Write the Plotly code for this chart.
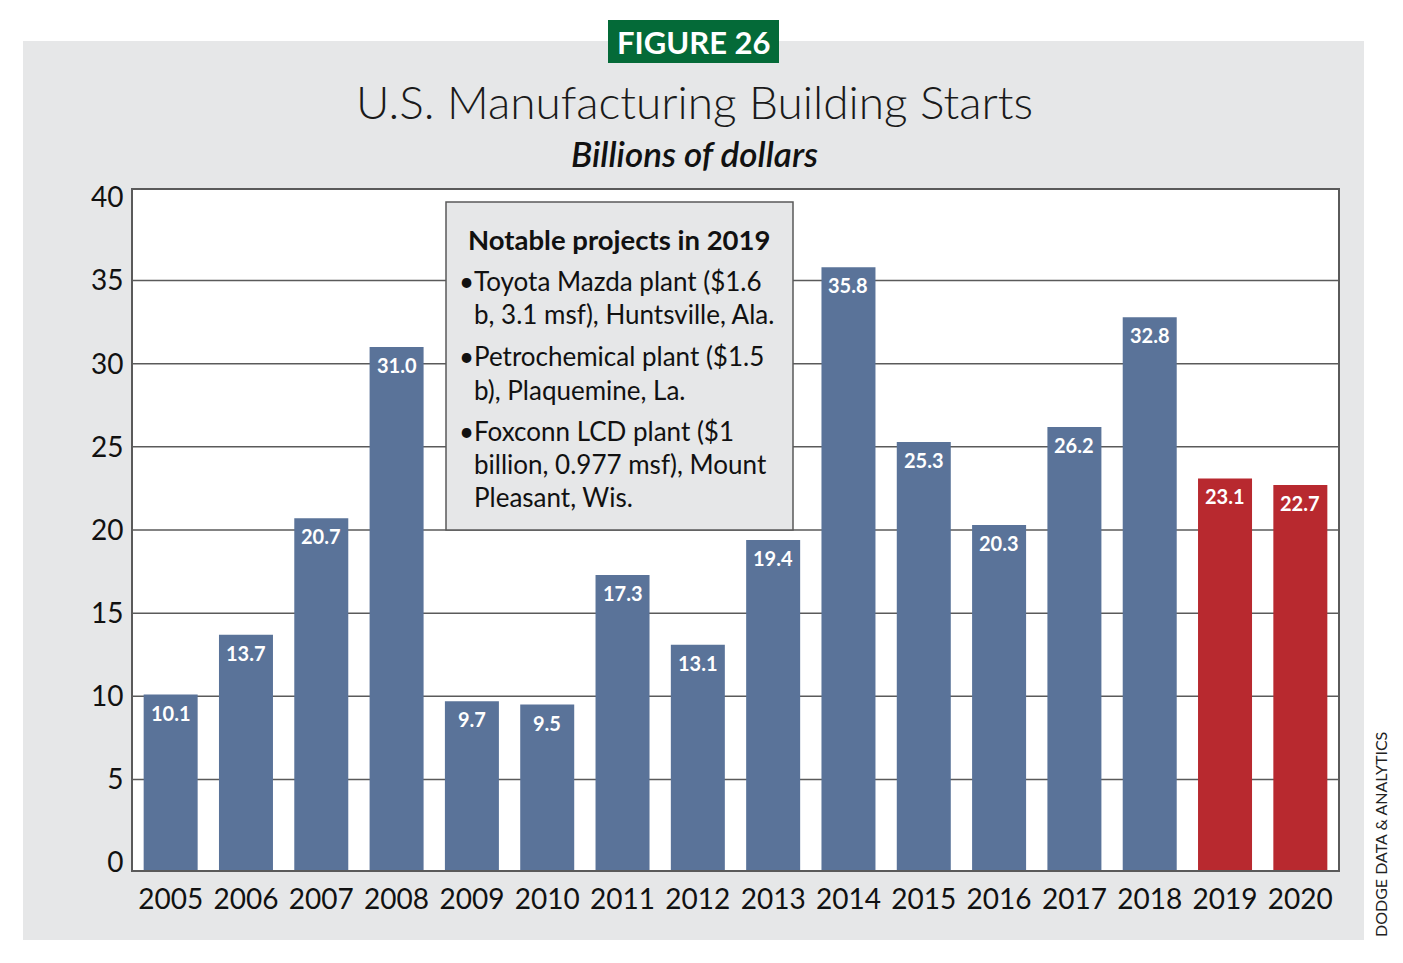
import plotly.graph_objects as go

years = ["2005", "2006", "2007", "2008", "2009", "2010", "2011", "2012",
         "2013", "2014", "2015", "2016", "2017", "2018", "2019", "2020"]
values = [10.1, 13.7, 20.7, 31.0, 9.7, 9.5, 17.3, 13.1,
          19.4, 35.8, 25.3, 20.3, 26.2, 32.8, 23.1, 22.7]
labels = ["10.1", "13.7", "20.7", "31.0", "9.7", "9.5", "17.3", "13.1",
          "19.4", "35.8", "25.3", "20.3", "26.2", "32.8", "23.1", "22.7"]
highlight_years = ["2019", "2020"]
y_ticks = [0, 5, 10, 15, 20, 25, 30, 35, 40]
grid_values = [5, 10, 15, 20, 25, 30, 35]

title_text = "U.S. Manufacturing Building Starts"
subtitle_text = "Billions of dollars"
figure_label = "FIGURE 26"
source_text = "DODGE DATA &amp; ANALYTICS"
box_title = "Notable projects in 2019"
box_bullets = [
    ["Toyota Mazda plant ($1.6", "b, 3.1 msf), Huntsville, Ala."],
    ["Petrochemical plant ($1.5", "b), Plaquemine, La."],
    ["Foxconn LCD plant ($1", "billion, 0.977 msf), Mount", "Pleasant, Wis."],
]

BLUE = "#5a7399"
RED = "#b8292f"
PANEL = "#e6e7e8"
GREEN = "#046a38"
LINE = "#5a5a5a"
FONT = "Lato"

W, H = 1403, 963
PL, PR, PT, PB = 133, 1338, 190, 870
Y_LO, Y_HI = -0.45, 40.45


def px(x):
    return (x - PL) / (PR - PL)


def py(y):
    return (PB - y) / (PB - PT)


colors = [RED if y in highlight_years else BLUE for y in years]
x_idx = list(range(len(years)))

fig = go.Figure()
fig.add_trace(go.Bar(
    x=x_idx,
    y=[v - Y_LO for v in values],
    base=Y_LO,
    marker=dict(color=colors, line=dict(width=0)),
    hoverinfo="skip",
))

shapes = [
    # gray panel
    dict(type="rect", xref="paper", yref="paper", layer="below",
         x0=px(23), x1=px(1364), y0=py(940), y1=py(41),
         fillcolor=PANEL, line=dict(width=0)),
    # white plot area
    dict(type="rect", xref="paper", yref="paper", layer="below",
         x0=0, x1=1, y0=0, y1=1, fillcolor="white", line=dict(width=0)),
]
for g in grid_values:
    shapes.append(dict(type="line", xref="paper", yref="y", layer="below",
                       x0=0, x1=1, y0=g, y1=g,
                       line=dict(color=LINE, width=1.5)))
shapes += [
    # figure label box
    dict(type="rect", xref="paper", yref="paper",
         x0=px(608), x1=px(779), y0=py(63), y1=py(20),
         fillcolor=GREEN, line=dict(width=0)),
    # notable projects box
    dict(type="rect", xref="paper", yref="paper",
         x0=px(446), x1=px(793), y0=py(530), y1=py(202),
         fillcolor=PANEL, line=dict(color=LINE, width=1.5)),
]

annotations = []
for i, v, lab in zip(x_idx, values, labels):
    annotations.append(dict(
        x=i, y=v, xref="x", yref="y", text="<b>" + lab + "</b>",
        showarrow=False, yanchor="middle", yshift=-18,
        font=dict(family=FONT, size=20, color="white"),
    ))

annotations += [
    dict(x=px(693.5), y=py(42), xref="paper", yref="paper",
         text="<b>" + figure_label + "</b>", showarrow=False,
         font=dict(family=FONT, size=31, color="white", weight=900),
         xanchor="center", yanchor="middle"),
    dict(x=px(694), y=py(101), xref="paper", yref="paper",
         text=title_text, showarrow=False,
         font=dict(family=FONT, size=46, color="#1a1a1a", weight=300),
         xanchor="center", yanchor="middle"),
    dict(x=px(694), y=py(153), xref="paper", yref="paper",
         text="<i>" + subtitle_text + "</i>", showarrow=False,
         font=dict(family=FONT, size=35, color="#111111", weight=600),
         xanchor="center", yanchor="middle"),
    dict(x=px(1380), y=py(835), xref="paper", yref="paper",
         text=source_text, showarrow=False, textangle=-90,
         font=dict(family=FONT, size=16, color="#222222"),
         xanchor="center", yanchor="middle"),
    dict(x=px(619), y=py(240), xref="paper", yref="paper",
         text="<b>" + box_title + "</b>", showarrow=False,
         font=dict(family=FONT, size=27.5, color="#111111"),
         xanchor="center", yanchor="middle"),
]

line_y = [[281, 314], [356, 390], [431, 464, 497]]
for bullet, ys in zip(box_bullets, line_y):
    annotations.append(dict(
        x=px(457), y=py(ys[0]), xref="paper", yref="paper", text="•",
        showarrow=False, font=dict(family=FONT, size=26, color="#111111"),
        xanchor="left", yanchor="middle"))
    for txt, yy in zip(bullet, ys):
        annotations.append(dict(
            x=px(472), y=py(yy), xref="paper", yref="paper", text=txt,
            showarrow=False, font=dict(family=FONT, size=26, color="#111111"),
            xanchor="left", yanchor="middle"))

fig.update_layout(
    width=W, height=H,
    margin=dict(l=PL, r=W - PR, t=PT, b=H - PB, pad=0),
    paper_bgcolor="white",
    plot_bgcolor="white",
    showlegend=False,
    bargap=0.283,
    shapes=shapes,
    annotations=annotations,
    font=dict(family=FONT, color="#111111"),
)
fig.update_xaxes(
    range=[-0.5, len(years) - 0.5], tickvals=x_idx, ticktext=years,
    showgrid=False, showline=True, mirror=True, linecolor=LINE, linewidth=2,
    zeroline=False,
    ticks="", tickfont=dict(family=FONT, size=28, color="#111111"),
    ticklabelstandoff=3, fixedrange=True,
)
fig.update_yaxes(
    range=[Y_LO, Y_HI], tickvals=y_ticks, ticktext=[str(t) for t in y_ticks],
    showgrid=False, zeroline=False,
    showline=True, mirror=True, linecolor=LINE, linewidth=2,
    ticks="", tickfont=dict(family=FONT, size=28, color="#111111"),
    ticklabelstandoff=2, fixedrange=True,
)

fig.write_html("out.html")
